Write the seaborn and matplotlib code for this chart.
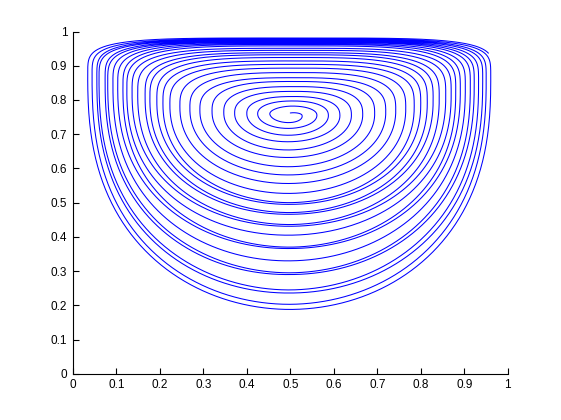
import numpy as np
import pandas as pd
import matplotlib
matplotlib.use("Agg")
import matplotlib.pyplot as plt
import seaborn as sns

# ---- values (one entry per turn of the spiral, inner -> outer)
# y where each turn crosses x = 0.5 on top
top_y = [0.782, 0.797, 0.810, 0.825, 0.839, 0.854, 0.865, 0.880, 0.893, 0.904,
         0.914, 0.924, 0.932, 0.938, 0.945, 0.951, 0.958, 0.962, 0.965, 0.968,
         0.970, 0.972, 0.974, 0.976, 0.978, 0.981]
# y where each turn crosses x = 0.5 at the bottom
bottom_y = [0.734, 0.717, 0.697, 0.678, 0.654, 0.632, 0.605, 0.581, 0.556, 0.527,
            0.500, 0.495, 0.471, 0.466, 0.436, 0.431, 0.405, 0.370, 0.366, 0.330,
            0.295, 0.290, 0.245, 0.236, 0.203, 0.188]
# half width of each turn (distance of the side from x = 0.5)
half_width = [0.047, 0.075, 0.100, 0.128, 0.153, 0.180, 0.208, 0.231, 0.254, 0.277,
              0.293, 0.307, 0.323, 0.334, 0.351, 0.364, 0.376, 0.385, 0.397, 0.408,
              0.420, 0.426, 0.440, 0.445, 0.456, 0.466]
# height at which each turn is widest
widest_y = [0.758, 0.757, 0.757, 0.758, 0.760, 0.763, 0.767, 0.772, 0.777, 0.783,
            0.789, 0.795, 0.801, 0.807, 0.813, 0.819, 0.825, 0.831, 0.837, 0.843,
            0.848, 0.853, 0.858, 0.862, 0.866, 0.872]
# start of the streamline (vortex centre) and where it ends
start_xy = (0.494, 0.756)
end_turn = 25.2

x_ticks = [0, 0.1, 0.2, 0.3, 0.4, 0.5, 0.6, 0.7, 0.8, 0.9, 1]
y_ticks = [0, 0.1, 0.2, 0.3, 0.4, 0.5, 0.6, 0.7, 0.8, 0.9, 1]

# ---- build the streamline through the read turn extents
n = len(top_y)
k = np.arange(-1, n)
T = np.r_[start_xy[1] + 0.006, top_y]
B = np.r_[start_xy[1] - 0.004, bottom_y]
W = np.r_[0.006, half_width]
YM = np.r_[start_xy[1], widest_y]
frac = np.clip(k, 0, None) / (n - 1)
NT = 2.0 + 2.5 * frac ** 0.7          # squareness of the upper half
NBY = 2.0 + 0.5 * frac                # vertical exponent of the lower half

s = np.linspace(-1.0, end_turn, 14000)
t = np.interp(s, k, T)
b = np.interp(s, k - 0.5, B)
w = np.interp(s, k - 0.25, W)
ym = np.interp(s, k, YM)
nt = np.interp(s, k, NT)
nby = np.interp(s, k, NBY)
th = np.pi / 2 - 2 * np.pi * s
c, sn = np.cos(th), np.sin(th)
upper = sn >= 0
nx = np.where(upper, nt, 2.0)
xs = 0.5 + w * np.sign(c) * np.abs(c) ** (2 / nx)
ys = np.where(upper, ym + (t - ym) * np.abs(sn) ** (2 / nt),
              ym - (ym - b) * np.abs(sn) ** (2 / nby))
df = pd.DataFrame({"x": xs, "y": ys})

# ---- draw
sns.set_style("white")
plt.rcParams["font.family"] = ["Liberation Sans", "DejaVu Sans"]
fig = plt.figure(figsize=(5.61, 4.20), dpi=100)
ax = fig.add_axes([0.13, 0.11, 0.775, 0.815])
sns.lineplot(data=df, x="x", y="y", sort=False, estimator=None, color="#0000ff",
             linewidth=0.75, ax=ax)
ax.set_xlim(0, 1)
ax.set_ylim(0, 1)
ax.set_xticks(x_ticks)
ax.set_yticks(y_ticks)
ax.set_xticklabels([f"{v:g}" for v in x_ticks])
ax.set_yticklabels([f"{v:g}" for v in y_ticks])
ax.set_xlabel("")
ax.set_ylabel("")
for side in ("top", "right"):
    ax.spines[side].set_visible(False)
for side in ("left", "bottom"):
    ax.spines[side].set_color("black")
    ax.spines[side].set_linewidth(0.8)
ax.tick_params(direction="in", length=4, width=0.8, labelsize=8.5, colors="black",
               left=True, bottom=True, pad=4)
fig.savefig("out.png", dpi=100, facecolor="white")
